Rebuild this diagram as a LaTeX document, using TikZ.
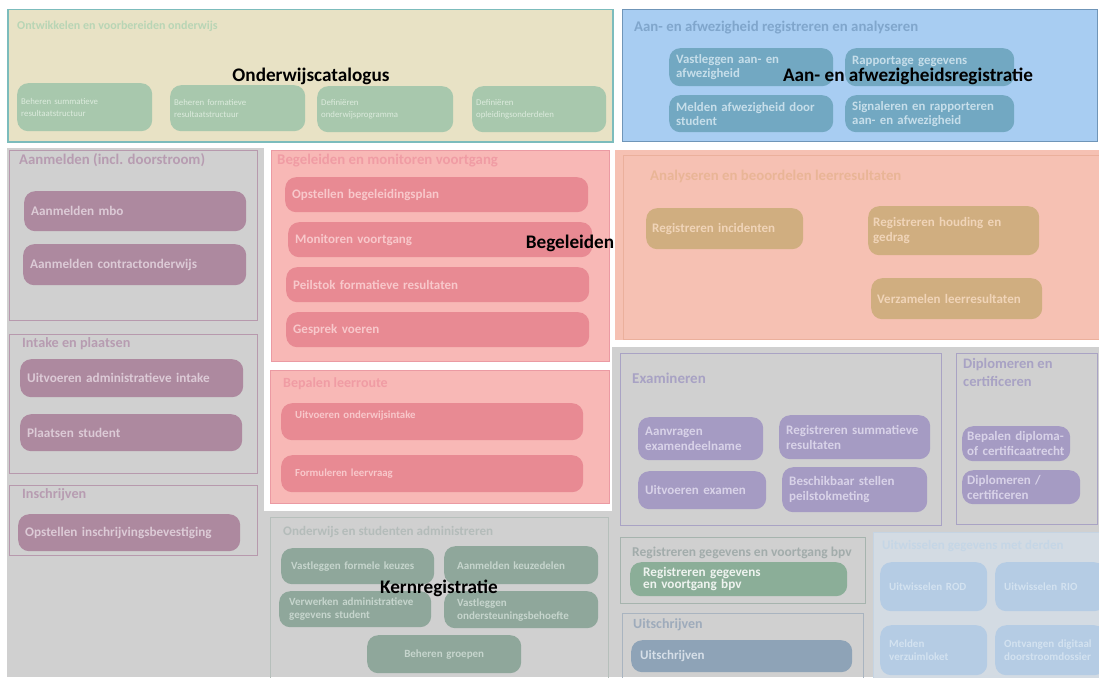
\documentclass[tikz,border=0pt]{standalone}
\usepackage{fontspec}
\setmainfont{Carlito}

% panel / box colours
\definecolor{bggrey}{HTML}{D0D0D0}
\definecolor{ylwfill}{HTML}{E8E2C5}
\definecolor{ylwline}{HTML}{7CBCBC}
\definecolor{ylwtitle}{HTML}{B8D5B5}
\definecolor{grnbox}{HTML}{A8C8AD}
\definecolor{grntxt}{HTML}{DCEBDD}
\definecolor{blufill}{HTML}{A8CDF2}
\definecolor{bluline}{HTML}{6F95B8}
\definecolor{blutitle}{HTML}{80A6CC}
\definecolor{blubox}{HTML}{72A8C2}
\definecolor{blutxt}{HTML}{C6DEEA}
\definecolor{purline}{HTML}{B799AD}
\definecolor{purtitle}{HTML}{B79CB1}
\definecolor{purbox}{HTML}{AD899F}
\definecolor{purtxt}{HTML}{DCCAD6}
\definecolor{pnkfill}{HTML}{F8B8B6}
\definecolor{pnkline}{HTML}{EB9AA3}
\definecolor{pnktitle}{HTML}{F09CA4}
\definecolor{pnkbox}{HTML}{E88A93}
\definecolor{pnktxt}{HTML}{F8C8CB}
\definecolor{slmfill}{HTML}{F6C1B3}
\definecolor{slmline}{HTML}{EBB09C}
\definecolor{slmtitle}{HTML}{E9B596}
\definecolor{tanbox}{HTML}{D0AE80}
\definecolor{tantxt}{HTML}{F0D4B8}
\definecolor{exline}{HTML}{A9A3C4}
\definecolor{extitle}{HTML}{A8A2C4}
\definecolor{exbox}{HTML}{A59BC3}
\definecolor{extxt}{HTML}{D8D2E8}
\definecolor{knline}{HTML}{B6BFBB}
\definecolor{kntitle}{HTML}{B4BCBA}
\definecolor{knbox}{HTML}{8FA79B}
\definecolor{kntxt}{HTML}{C6D5CD}
\definecolor{bpvline}{HTML}{A6B4AE}
\definecolor{bpvtitle}{HTML}{A2ACAB}
\definecolor{bpvbox}{HTML}{8BAE98}
\definecolor{bpvtxt}{HTML}{EEF3EF}
\definecolor{uitline}{HTML}{A9B4C0}
\definecolor{uittitle}{HTML}{9EABBB}
\definecolor{uitbox}{HTML}{8EA3B7}
\definecolor{uittxt}{HTML}{D6DFE8}
\definecolor{wisfill}{HTML}{D3DBE3}
\definecolor{wisline}{HTML}{C5D4E3}
\definecolor{wistitle}{HTML}{C5D6E6}
\definecolor{wisbox}{HTML}{B5CCE4}
\definecolor{wistxt}{HTML}{D3E2F0}

% rounded process box: [pad]{name}{x}{y}{w}{h}{style}{text}
\newcommand\procbox[8][7]{%
  \pgfmathsetmacro\pbtw{#5-2*#1}%
  \node[#7, anchor=north west, minimum width=#5pt, minimum height=#6pt,
        text width=\pbtw pt, inner xsep=#1pt, inner ysep=0pt] (#2) at (#3,#4) {#8};}
% rectangular panel: {name}{x}{y}{w}{h}{style}
\newcommand\panelrect[6]{%
  \node[#6, anchor=north west, minimum width=#4pt, minimum height=#5pt,
        inner sep=0pt] (#1) at (#2,#3) {};}

\begin{document}
\begin{tikzpicture}[x=1pt, y=-1pt,
  pbox/.style={rounded corners=11pt, align=left, font=\bfseries\fontsize{13.2}{14.5}\selectfont},
  ybox/.style={pbox, fill=grnbox, text=grntxt, font=\fontsize{8.8}{12}\selectfont},
  abox/.style={pbox, fill=blubox, text=blutxt, font=\bfseries\fontsize{12.8}{14}\selectfont},
  lbox/.style={pbox, fill=purbox, text=purtxt},
  rbox/.style={pbox, fill=pnkbox, text=pnktxt, font=\bfseries\fontsize{13}{14}\selectfont},
  rsbox/.style={pbox, fill=pnkbox, text=pnktxt, font=\bfseries\fontsize{10.8}{12}\selectfont},
  sbox/.style={pbox, fill=tanbox, text=tantxt, font=\bfseries\fontsize{13}{15}\selectfont},
  ebox/.style={pbox, fill=exbox, text=extxt, font=\bfseries\fontsize{13}{15}\selectfont},
  kbox/.style={pbox, fill=knbox, text=kntxt, font=\bfseries\fontsize{11}{13}\selectfont},
  vbox/.style={pbox, fill=bpvbox, text=bpvtxt, font=\bfseries\fontsize{13.2}{12}\selectfont},
  ubox/.style={pbox, fill=uitbox, text=uittxt, font=\bfseries\fontsize{13}{14}\selectfont},
  wbox/.style={pbox, fill=wisbox, text=wistxt, font=\bfseries\fontsize{11}{12.5}\selectfont},
  ptitle/.style={anchor=west, inner sep=0pt, align=left},
  biglabel/.style={inner sep=0pt, text=black, font=\bfseries\fontsize{19.2}{22}\selectfont},
]
\useasboundingbox (0,0) rectangle (1099,677);
\fill[white] (0,0) rectangle (1099,677);

% grey backdrop of the lower area
\fill[bggrey] (7,148) rectangle (264,677);
\fill[bggrey] (262,511) rectangle (615,677);
\fill[bggrey] (612,347) rectangle (1099,677);

% ---------- Onderwijscatalogus ----------
\panelrect{pcat}{7}{9}{605}{132}{fill=ylwfill, draw=ylwline, line width=1.5pt}
\node[ptitle, text=ylwtitle, font=\bfseries\fontsize{12}{14}\selectfont] (tcat) at (17,26) {Ontwikkelen en voorbereiden onderwijs};
\procbox[4]{y1}{17}{83}{135}{48}{ybox}{Beheren summatieve\\resultaatstructuur}
\procbox[4]{y2}{170}{85}{135}{46}{ybox}{Beheren formatieve\\resultaatstructuur}
\procbox[4]{y3}{317}{86}{136}{46}{ybox}{Definiëren\\onderwijsprogramma}
\procbox[4]{y4}{472}{86}{134}{46}{ybox}{Definiëren\\opleidingsonderdelen}
\node[biglabel] (lcat) at (311,76) {Onderwijscatalogus};

% ---------- Aan- en afwezigheid ----------
\panelrect{paan}{622}{9}{475}{132}{fill=blufill, draw=bluline, line width=1pt}
\node[ptitle, text=blutitle, font=\bfseries\fontsize{14.8}{16}\selectfont] (taan) at (634,28) {Aan- en afwezigheid registreren en analyseren};
\procbox{a1}{669}{48}{164}{38}{abox}{Vastleggen aan- en\\afwezigheid}
\procbox{a2}{845}{48}{169}{38}{abox}{Rapportage gegevens\\\mbox{}}
\procbox{a3}{669}{95}{164}{37}{abox}{Melden afwezigheid door\\student}
\procbox{a4}{845}{95}{169}{37}{abox}{Signaleren en rapporteren\\aan- en afwezigheid}
\node[biglabel] (laan) at (908,76) {Aan- en afwezigheidsregistratie};

% ---------- left column ----------
\panelrect{paanm}{9}{150}{248}{170}{draw=purline, line width=1pt}
\node[ptitle, text=purtitle, font=\bfseries\fontsize{14.8}{16}\selectfont] (taanm) at (19,160) {Aanmelden (incl. doorstroom)};
\procbox{l1}{24}{191}{222}{40}{lbox}{Aanmelden mbo}
\procbox{l2}{23}{244}{223}{41}{lbox}{Aanmelden contractonderwijs}

\panelrect{pint}{9}{334}{248}{139}{draw=purline, line width=1pt}
\node[ptitle, text=purtitle, font=\bfseries\fontsize{14.2}{16}\selectfont] (tint) at (22,344) {Intake en plaatsen};
\procbox{l3}{20}{359}{223}{38}{lbox}{Uitvoeren administratieve intake}
\procbox{l4}{20}{414}{222}{37}{lbox}{Plaatsen student}

\panelrect{pins}{9}{485}{248}{70}{draw=purline, line width=1pt}
\node[ptitle, text=purtitle, font=\bfseries\fontsize{14.2}{16}\selectfont] (tins) at (22,495) {Inschrijven};
\procbox{l5}{18}{514}{222}{37}{lbox}{Opstellen inschrijvingsbevestiging}

% ---------- Begeleiden ----------
\panelrect{pbeg}{271}{150}{338}{211}{fill=pnkfill, draw=pnkline, line width=1pt}
\node[ptitle, text=pnktitle, font=\bfseries\fontsize{14.8}{16}\selectfont] (tbeg) at (277,161) {Begeleiden en monitoren voortgang};
\procbox{r1}{285}{177}{303}{35}{rbox}{Opstellen begeleidingsplan}
\procbox{r2}{288}{222}{304}{35}{rbox}{Monitoren voortgang}
\procbox{r3}{286}{267}{303}{35}{rbox}{Peilstok formatieve resultaten}
\procbox{r4}{286}{312}{303}{35}{rbox}{Gesprek voeren}

\panelrect{pleer}{270}{370}{339}{133}{fill=pnkfill, draw=pnkline, line width=1pt}
\node[ptitle, text=pnktitle, font=\bfseries\fontsize{14}{16}\selectfont] (tleer) at (283,384) {Bepalen leerroute};
\procbox[14]{r5}{281}{403}{302}{37}{rsbox}{Uitvoeren onderwijsintake\\[2pt]\mbox{}}
\procbox[14]{r6}{281}{455}{302}{37}{rsbox}{Formuleren leervraag}
\node[biglabel] (lbeg) at (570,243) {Begeleiden};

% ---------- Analyseren en beoordelen ----------
\fill[slmfill] (615,150) rectangle (1099,340);
\panelrect{pana}{623}{155}{480}{184}{draw=slmline, line width=1pt}
\node[ptitle, text=slmtitle, font=\bfseries\fontsize{14.8}{16}\selectfont] (tana) at (650,176) {Analyseren en beoordelen leerresultaten};
\procbox[6]{s1}{646}{208}{157}{41}{sbox}{Registreren incidenten}
\procbox[5]{s2}{868}{206}{171}{49}{sbox}{Registreren houding en\\gedrag}
\procbox[6]{s3}{871}{278}{171}{41}{sbox}{Verzamelen leerresultaten}

% ---------- Examineren ----------
\panelrect{pexa}{620}{353}{321}{172}{draw=exline, line width=1pt}
\node[ptitle, text=extitle, font=\bfseries\fontsize{15}{17}\selectfont] (texa) at (632,378) {Examineren};
\procbox{e1}{638}{417}{125}{43}{ebox}{Aanvragen\\examendeelname}
\procbox{e2}{779}{415}{151}{44}{ebox}{Registreren summatieve\\resultaten}
\procbox{e3}{638}{471}{128}{38}{ebox}{Uitvoeren examen}
\procbox{e4}{782}{467}{145}{45}{ebox}{Beschikbaar stellen\\peilstokmeting}

\panelrect{pdip}{956}{353}{141}{171}{draw=exline, line width=1pt}
\node[ptitle, text=extitle, font=\bfseries\fontsize{14.5}{18}\selectfont] (tdip) at (963,372) {Diplomeren en\\certificeren};
\procbox[5]{d1}{962}{426}{108}{35}{ebox}{Bepalen diploma-\\of certificaatrecht}
\procbox[5]{d2}{962}{470}{118}{34}{ebox}{Diplomeren /\\certificeren}

% ---------- Kernregistratie ----------
\panelrect{pkern}{270}{517}{338}{165}{draw=knline, line width=1pt}
\node[ptitle, text=kntitle, font=\bfseries\fontsize{13.1}{15}\selectfont] (tkern) at (283,532) {Onderwijs en studenten administreren};
\procbox[10]{k1}{281}{548}{153}{36}{kbox}{Vastleggen formele keuzes}
\procbox[13]{k2}{444}{546}{154}{38}{kbox}{Aanmelden keuzedelen}
\procbox[10]{k3}{279}{591}{152}{36}{kbox}{Verwerken administratieve\\gegevens student}
\procbox[13]{k4}{444}{591}{154}{37}{kbox}{Vastleggen\\ondersteuningsbehoefte}
\procbox{k5}{367}{635}{154}{38}{kbox, align=center}{Beheren groepen}
\node[biglabel] (lkern) at (439,588) {Kernregistratie};

% ---------- bpv / Uitschrijven ----------
\panelrect{pbpv}{620}{537}{245}{66}{draw=bpvline, line width=1pt}
\node[ptitle, text=bpvtitle, font=\bfseries\fontsize{13.5}{15}\selectfont] (tbpv) at (632,553) {Registreren gegevens en voortgang bpv};
\procbox[13]{v1}{630}{562}{217}{34}{vbox}{Registreren gegevens\\en voortgang bpv}

\panelrect{puit}{622}{613}{241}{70}{draw=uitline, line width=1pt}
\node[ptitle, text=uittitle, font=\bfseries\fontsize{14}{16}\selectfont] (tuit) at (633,625) {Uitschrijven};
\procbox[9]{u1}{631}{640}{221}{32}{ubox}{Uitschrijven}

% ---------- Uitwisselen ----------
\panelrect{pwis}{873}{532}{230}{150}{fill=wisfill, draw=wisline, line width=1pt}
\node[ptitle, text=wistitle, font=\bfseries\fontsize{13}{15}\selectfont] (twis) at (882,546) {Uitwisselen gegevens met derden};
\procbox[9]{w1}{880}{562}{107}{49}{wbox}{Uitwisselen ROD}
\procbox[9]{w2}{995}{562}{110}{49}{wbox}{Uitwisselen RIO}
\procbox[9]{w3}{880}{625}{107}{50}{wbox}{Melden\\verzuimloket}
\procbox[9]{w4}{995}{625}{110}{50}{wbox}{Ontvangen digitaal\\doorstroomdossier}
\end{tikzpicture}
\end{document}
